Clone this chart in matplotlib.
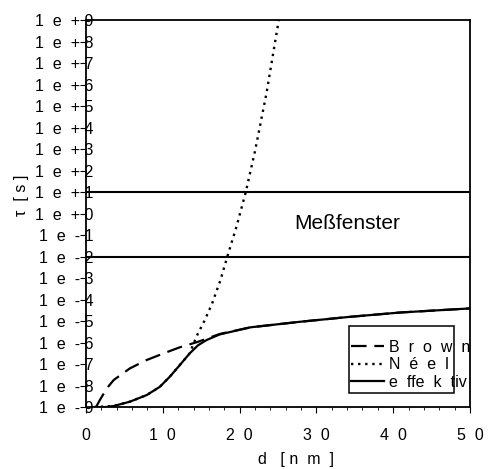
import numpy as np
import matplotlib
matplotlib.use("Agg")
import matplotlib.pyplot as plt
from matplotlib.patches import Rectangle
from matplotlib.ticker import FixedLocator, MultipleLocator

plt.rcParams['font.family'] = ['Liberation Sans', 'DejaVu Sans']

# Brown relaxation (exponent of tau in s)
d_brown = [1.3, 1.8, 2.7, 3.6, 5.7, 7.9, 10.1, 12.2, 14.6, 17.4, 21.4, 27.9, 34.4, 40.9, 50.0]
log_brown = [-9.0, -8.67, -8.13, -7.74, -7.2, -6.81, -6.5, -6.22, -5.96, -5.6, -5.29, -5.03, -4.8, -4.6, -4.41]

# Neel relaxation
d_neel = [1.0, 3.6, 5.7, 7.9, 9.6, 10.9, 12.2, 13.5, 14.4, 15.4, 16.4, 17.5, 18.4, 19.6, 20.8, 22.0, 23.5, 25.1]
log_neel = [-9.0, -8.95, -8.75, -8.44, -8.06, -7.59, -7.05, -6.5, -5.7, -5.0, -4.2, -3.1, -2.0, -0.6, 1.0, 2.9, 5.6, 9.0]

# effective relaxation
d_eff = [1.0, 2.5, 3.6, 5.7, 7.9, 9.6, 10.9, 12.2, 13.5, 14.6, 15.7, 17.4, 21.4, 27.9, 34.4, 40.9, 50.0]
log_eff = [-9.0, -9.0, -8.95, -8.75, -8.44, -8.06, -7.59, -7.05, -6.5, -6.12, -5.88, -5.62, -5.29, -5.03, -4.8, -4.6, -4.41]

# measurement window
window = [1e1, 1e-2]

y_exp = np.arange(9, -10, -1)
y_labels = [f"1  e  + {e}" if e >= 0 else f"1  e  - {abs(e)}" for e in y_exp]
x_ticks = [0, 10, 20, 30, 40, 50]
x_labels = ["0", "1  0", "2  0", "3  0", "4  0", "5  0"]

fig = plt.figure(figsize=(4.89, 4.69), dpi=100)
ax = fig.add_axes([0.176, 0.132, 0.785, 0.825])

ax.plot(d_brown, 10.0 ** np.array(log_brown), color='black', lw=1.6,
        dashes=(7, 3.5), label="B  r  o  w  n")
ax.plot(d_neel, 10.0 ** np.array(log_neel), color='black', lw=1.7,
        linestyle=(0, (1, 2.0)), label="N  é  e  l")
ax.plot(d_eff, 10.0 ** np.array(log_eff), color='black', lw=1.6,
        label="e  ffe  k  tiv")

for w in window:
    ax.axhline(w, color='black', lw=1.5)

ax.text(34.0, 10 ** -0.45, "Meßfenster", fontsize=15, ha='center', va='center')

ax.set_yscale('log')
ax.set_xlim(0, 50)
ax.set_ylim(1e-9, 1e9)
ax.yaxis.set_major_locator(FixedLocator(10.0 ** y_exp))
ax.yaxis.set_minor_locator(FixedLocator([]))
ax.set_yticklabels(y_labels)
ax.set_xticks(x_ticks)
ax.set_xticklabels(x_labels)
ax.xaxis.set_minor_locator(MultipleLocator(2))

ax.tick_params(axis='y', direction='out', length=4, pad=-9.5, labelsize=11.5)
ax.tick_params(axis='x', which='major', direction='out', length=4, pad=11, labelsize=11.5)
ax.tick_params(axis='x', which='minor', direction='out', length=2)

ax.set_xlabel("d   [ n  m  ]", fontsize=11.5, va='center')
ax.xaxis.set_label_coords(0.547, -0.135)
ax.set_ylabel("τ  [ s ]", fontsize=11.5, va='center')
ax.yaxis.set_label_coords(-0.167, 0.548)

for s in ax.spines.values():
    s.set_linewidth(1.3)

# legend box as in the scan, text runs past the frame
ax.add_patch(Rectangle((0.685, 0.036), 0.273, 0.173, transform=ax.transAxes,
                       fill=False, edgecolor='black', lw=1.1, zorder=4))
leg = ax.legend(loc='lower left', bbox_to_anchor=(0.69, 0.045), fontsize=11.5,
                frameon=False, handlelength=2.1, handletextpad=0.3,
                borderpad=0.0, labelspacing=0.15, borderaxespad=0)

fig.savefig("out.png", dpi=100)
